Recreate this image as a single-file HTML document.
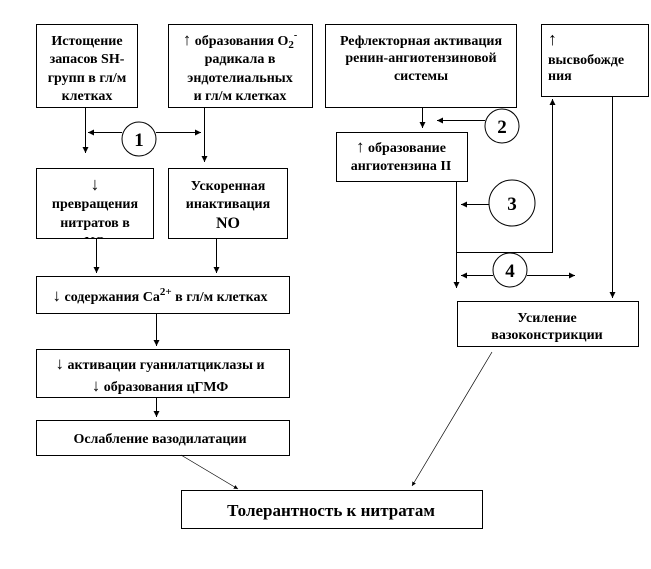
<!DOCTYPE html>
<html><head><meta charset="utf-8"><style>
body{margin:0;background:#fff}
svg text{font-family:"Liberation Serif",serif;font-weight:bold;fill:#000}
</style></head><body>
<svg width="651" height="564" viewBox="0 0 651 564" xmlns="http://www.w3.org/2000/svg">
<defs><marker id="a" markerWidth="8" markerHeight="8" refX="6" refY="3" orient="auto"><path d="M0,0 L6,3 L0,6 z" fill="#000"/></marker>
<clipPath id="c5"><rect x="37" y="169" width="116" height="69"/></clipPath></defs>
<g fill="#fff" stroke="#000" stroke-width="1">
<rect x="36.5" y="24.5" width="101" height="83"/>
<rect x="168.5" y="24.5" width="144" height="83"/>
<rect x="325.5" y="24.5" width="191" height="83"/>
<rect x="541.5" y="24.5" width="107" height="72"/>
<rect x="36.5" y="168.5" width="117" height="70"/>
<rect x="168.5" y="168.5" width="119" height="70"/>
<rect x="336.5" y="132.5" width="131" height="49"/>
<rect x="36.5" y="276.5" width="253" height="37"/>
<rect x="36.5" y="349.5" width="253" height="48"/>
<rect x="36.5" y="420.5" width="253" height="35"/>
<rect x="457.5" y="301.5" width="181" height="45"/>
<rect x="181.5" y="490.5" width="301" height="38"/>
<circle cx="139" cy="139" r="17"/>
<circle cx="502" cy="126" r="17"/>
<circle cx="512" cy="203" r="23"/>
<circle cx="510" cy="270" r="17"/>
</g>
<g stroke="#000" fill="none" stroke-width="1">
<path d="M85.5 107V153" marker-end="url(#a)"/>
<path d="M204.5 107V162" marker-end="url(#a)"/>
<path d="M122 132.5H88" marker-end="url(#a)"/>
<path d="M156 132.5H201" marker-end="url(#a)"/>
<path d="M96.5 238V273" marker-end="url(#a)"/>
<path d="M216.5 238V273" marker-end="url(#a)"/>
<path d="M156.5 313V346" marker-end="url(#a)"/>
<path d="M156.5 397V417" marker-end="url(#a)"/>
<path d="M422.5 107V128" marker-end="url(#a)"/>
<path d="M485 120.5H437" marker-end="url(#a)"/>
<path d="M456.5 181V288" marker-end="url(#a)"/>
<path d="M489 204.5H461" marker-end="url(#a)"/>
<path d="M456 252.5H552.5V99" marker-end="url(#a)"/>
<path d="M493 275.5H461" marker-end="url(#a)"/>
<path d="M527 275.5H575" marker-end="url(#a)"/>
<path d="M612.5 96V298" marker-end="url(#a)"/>
<path d="M492 352L412 486" marker-end="url(#a)" stroke-width="0.7"/>
<path d="M181 455L238 489" marker-end="url(#a)" stroke-width="0.7"/>
</g>
<g font-size="14" text-anchor="middle">
<text x="87" y="45">Истощение</text><text x="87" y="63">запасов SH-</text><text x="87" y="82">групп в гл/м</text><text x="87" y="100">клетках</text>
<text x="240" y="45"><tspan font-size="17">↑</tspan> образования O<tspan font-size="11" dy="3">2</tspan><tspan font-size="10" dy="-10">-</tspan></text><text x="240" y="63">радикала в</text><text x="240" y="82">эндотелиальных</text><text x="240" y="100">и гл/м клетках</text>
<text x="421" y="45">Рефлекторная активация</text><text x="421" y="62">ренин-ангиотензиновой</text><text x="421" y="80">системы</text>
<g clip-path="url(#c5)"><text x="95" y="190" font-size="18">↓</text><text x="95" y="208">превращения</text><text x="95" y="227">нитратов в</text><text x="95" y="246">NO</text></g>
<text x="228" y="190">Ускоренная</text><text x="228" y="208">инактивация</text><text x="228" y="228" font-size="16">NO</text>
<text x="401" y="152"><tspan font-size="17">↑</tspan> образование</text><text x="401" y="170">ангиотензина II</text>
<text x="160" y="301"><tspan font-size="17">↓</tspan> содержания Ca<tspan font-size="11" dy="-6">2+</tspan><tspan dy="6"> в гл/м клетках</tspan></text>
<text x="160" y="369"><tspan font-size="17">↓</tspan> активации гуанилатциклазы и</text><text x="160" y="391"><tspan font-size="17">↓</tspan> образования цГМФ</text>
<text x="160" y="443">Ослабление вазодилатации</text>
<text x="547" y="322">Усиление</text>
<text x="547" y="339">вазоконстрикции</text>
<text x="331" y="516" font-size="17">Толерантность к нитратам</text>
<text x="139" y="146" font-size="19">1</text><text x="502" y="133" font-size="19">2</text><text x="512" y="210" font-size="19">3</text><text x="510" y="277" font-size="19">4</text>
</g>
<g font-size="14">
<text x="548" y="45" font-size="18">↑</text><text x="548" y="64">высвобожде</text><text x="548" y="80">ния</text>
</g>
</svg>
</body></html>
